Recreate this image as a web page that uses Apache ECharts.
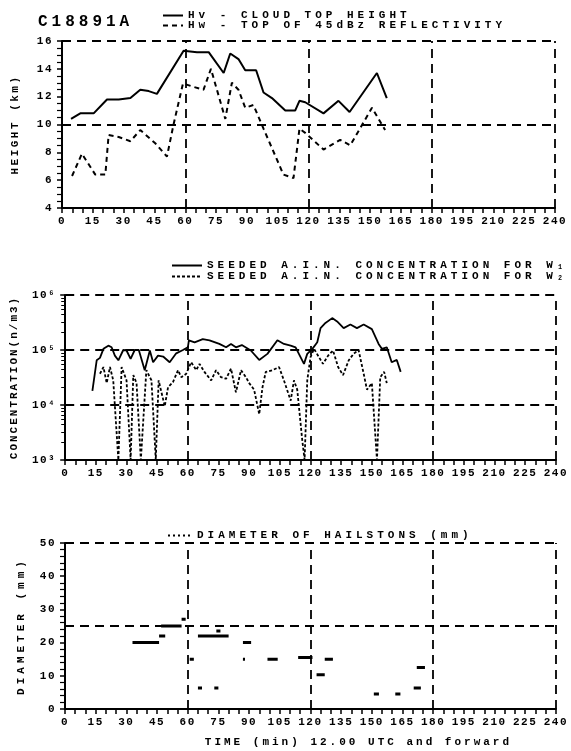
<!DOCTYPE html>
<html>
<head>
<meta charset="utf-8">
<script src="https://cdn.jsdelivr.net/npm/echarts@6/dist/echarts.min.js"></script>
<style>html,body{margin:0;padding:0;background:#fff;}#c{width:571px;height:751px;}</style>
</head>
<body>
<div id="c"></div>
<script>
// ---- typewriter letter spacing (encoded in the font-family list as lspN = N/2 px) ----
(function(){
  var P = CanvasRenderingContext2D.prototype;
  if (!('letterSpacing' in P)) return;
  function ap(ctx){ var m = /lsp(\d+)/.exec(ctx.font); ctx.letterSpacing = m ? (parseInt(m[1],10)/2)+'px' : '0px'; }
  ['fillText','strokeText','measureText'].forEach(function(fn){
    var o = P[fn];
    P[fn] = function(){ ap(this); return o.apply(this, arguments); };
  });
})();

// ---------------- DATA ----------------
const timeTicks = [0,15,30,45,60,75,90,105,120,135,150,165,180,195,210,225,240];
const gridTimes = [60,120,180,240];

// Panel 1: heights (km)
const hvTime = [4.4,8.9,15.4,21.9,27.6,33.3,38.1,42.2,46.2,59.2,65.7,71.4,78.7,81.9,85.9,89.2,94.5,98.1,102.2,108.7,113.5,115.6,118.4,127.3,134.6,140.0,153.3,158.1];
const hvHeight = [10.4,10.8,10.8,11.8,11.8,11.9,12.5,12.4,12.2,15.3,15.2,15.2,13.7,15.1,14.7,13.9,13.9,12.3,11.9,11.0,11.0,11.7,11.6,10.8,11.7,10.9,13.7,11.9];
const hwTime = [4.9,9.7,16.2,21.1,22.7,27.6,33.3,38.1,45.4,51.1,54.3,58.9,64.1,68.9,72.5,79.5,82.7,85.9,89.2,93.2,98.1,107.8,112.7,115.6,118.4,127.3,135.4,140.3,150.9,157.3];
const hwHeight = [6.3,7.9,6.4,6.4,9.25,9.1,8.8,9.6,8.65,7.7,10.0,12.95,12.7,12.5,14.0,10.4,13.0,12.5,11.2,11.4,9.7,6.4,6.15,9.7,9.4,8.2,8.9,8.5,11.2,9.6];
const heightGrid = [10,16];

// Panel 2: seeded A.I.N. concentration (n/m3)
const w1Time = [13.3,15.4,17.0,18.7,21.1,22.7,24.3,26.0,28.4,30.0,32.0,34.0,36.0,38.9,41.4,43.0,45.4,47.9,51.1,54.3,57.6,60.0,60.5,63.3,67.3,70.6,75.4,78.7,81.1,83.5,86.4,90.8,94.9,98.9,103.8,107.0,110.3,112.7,116.8,118.4,120.9,123.3,124.9,127.3,130.6,133.0,136.2,139.5,142.7,146.0,150.0,153.3,154.9,157.3,159.7,162.2,164.1];
const w1Conc = [18000,65000,72000,105000,120000,112000,79000,65000,100000,98000,69000,100000,100000,43000,98000,60000,79000,76000,60000,87000,100000,112000,150000,138000,158000,150000,129000,112000,129000,112000,123000,98000,66000,85000,150000,129000,120000,112000,56000,85000,105000,138000,250000,310000,380000,330000,250000,290000,250000,290000,240000,129000,105000,112000,60000,66000,40000];
const w2Time = [17.0,18.7,20.3,21.9,23.5,26.0,27.6,30.0,32.0,33.3,34.9,37.0,39.7,42.2,44.3,45.7,48.7,50.3,52.7,55.2,56.8,59.2,61.6,64.1,65.7,68.1,71.4,73.8,76.2,78.7,81.1,83.5,86.0,88.4,90.0,92.4,94.9,96.5,98.1,101.4,104.6,107.0,110.3,111.9,113.5,115.9,117.1,118.4,120.0,121.7,126.1,128.6,131.0,133.5,135.9,138.7,141.0,143.5,146.0,147.6,150.0,152.5,154.1,156.0,157.3];
const w2Conc = [37000,49000,25000,49000,28000,1000,49000,28000,1000,35000,25000,1000,43000,28000,1000,28000,9500,21000,26000,43000,32000,37000,60000,43000,56000,40000,28000,43000,32000,30000,46000,17000,43000,32000,25000,19000,6800,21000,40000,43000,49000,28000,12000,28000,19000,2400,1000,28000,74000,105000,56000,79000,98000,49000,35000,65000,85000,100000,37000,19000,25000,1000,32000,40000,25000];
const concGrid = [10000,100000,1000000];

// Panel 3: hailstone diameter (mm), horizontal segments
const hailStart = [33,46,47,57,61,65,74,65,73,87,87,99,114,123,127,151,161.5,170.5,172];
const hailEnd   = [46,49,57,59,63,80,76,67,75,91,88,104,121,127,131,153.5,164,174,176];
const hailDiam  = [20,22,25,27,15,22,23.5,6.3,6.3,20,15,15,15.5,10.3,15,4.5,4.5,6.3,12.5];
const diamGrid = [25,50];

const labels = {
  title: 'C18891A',
  hv: 'Hv - CLOUD TOP HEIGHT',
  hw: 'Hw - TOP OF 45dBz REFLECTIVITY',
  w1: 'SEEDED A.I.N. CONCENTRATION FOR W\u2081',
  w2: 'SEEDED A.I.N. CONCENTRATION FOR W\u2082',
  hail: 'DIAMETER OF HAILSTONS (mm)',
  yHeight: 'HEIGHT (km)',
  yConc: 'CONCENTRATION(n/m3)',
  yDiam: 'DIAMETER (mm)',
  xTime: 'TIME (min) 12.00 UTC and forward'
};
// ---------------------------------------

const F = ls => "'Liberation Mono', lsp" + ls + ", monospace";
const BLK = '#000';
const pairs = (xs, ys) => xs.map((x, i) => [x, ys[i]]);
const sup = {'0':'\u2070','1':'\u00b9','2':'\u00b2','3':'\u00b3','4':'\u2074','5':'\u2075','6':'\u2076'};

function xAxisFor(gi, withName) {
  const ax = {
    type: 'value', gridIndex: gi, min: 0, max: 240, interval: 15,
    axisLine: {show: true, onZero: false, lineStyle: {color: BLK, width: 2}},
    axisTick: {show: true, length: 5, lineStyle: {color: BLK, width: 1.5}},
    minorTick: {show: true, splitNumber: 3, length: 5, lineStyle: {color: BLK, width: 1.5}},
    splitLine: {show: false},
    axisLabel: {color: BLK, fontFamily: F(3), fontWeight: 'bold', fontSize: 11, margin: 7,
      formatter: v => (timeTicks.indexOf(v) >= 0 ? String(v) : '')}
  };
  if (withName) {
    ax.name = labels.xTime;
    ax.nameLocation = 'middle';
    ax.nameGap = 26;
    ax.nameTextStyle = {color: BLK, fontFamily: F(6), fontWeight: 'bold', fontSize: 11, padding: [0, 0, 0, 96]};
  }
  return ax;
}

function gridMarks(yVals) {
  return {
    silent: true, symbol: 'none', label: {show: false},
    lineStyle: {color: BLK, type: [9, 6], width: 1.8},
    data: yVals.map(v => ({yAxis: v})).concat(gridTimes.map(t => ({xAxis: t})))
  };
}

const hailData = [];
hailStart.forEach((s, i) => {
  hailData.push([s, hailDiam[i]], [hailEnd[i], hailDiam[i]], [hailEnd[i], '-']);
});

const yLabelStyle = {color: BLK, fontFamily: F(3), fontWeight: 'bold', fontSize: 11, margin: 9};
const yLine = {show: true, lineStyle: {color: BLK, width: 2}};
const yTick = {show: true, length: 5, lineStyle: {color: BLK, width: 1.5}};
const legendText = {color: BLK, fontFamily: F(8), fontWeight: 'bold', fontSize: 11, lineHeight: 10};
const legendCommon = {orient: 'vertical', itemHeight: 8, textStyle: legendText,
  itemStyle: {opacity: 0}, selectedMode: false};

const option = {
  animation: false,
  backgroundColor: '#fff',
  title: {
    text: labels.title, left: 33, top: 7,
    textStyle: {color: BLK, fontFamily: F(8), fontWeight: 'bold', fontSize: 16}
  },
  legend: [
    Object.assign({}, legendCommon, {data: [labels.hv, labels.hw], left: 157, top: 3, itemGap: -5,
      itemWidth: 20}),
    Object.assign({}, legendCommon, {data: [labels.w1, labels.w2], left: 166, top: 253, itemGap: -4,
      itemWidth: 30}),
    Object.assign({}, legendCommon, {data: [{name: labels.hail, lineStyle: {type: [2, 3], width: 2, color: BLK}}],
      left: 162, top: 523, itemWidth: 24})
  ],
  grid: [
    {left: 62, top: 41, width: 493, height: 167},
    {left: 63, top: 295, width: 493, height: 165},
    {left: 65, top: 543, width: 494, height: 166}
  ],
  xAxis: [xAxisFor(0, false), xAxisFor(1, false), xAxisFor(2, true)],
  yAxis: [
    {type: 'value', gridIndex: 0, min: 4, max: 16, interval: 2,
      axisLine: yLine, axisTick: yTick,
      minorTick: {show: true, splitNumber: 4, length: 5, lineStyle: {color: BLK, width: 1.2}},
      splitLine: {show: false}, axisLabel: yLabelStyle,
      name: labels.yHeight, nameLocation: 'middle', nameGap: 40, nameRotate: 90,
      nameTextStyle: {color: BLK, fontFamily: F(5), fontWeight: 'bold', fontSize: 11}},
    {type: 'log', logBase: 10, gridIndex: 1, min: 1000, max: 1000000,
      axisLine: yLine, axisTick: yTick,
      minorTick: {show: true, splitNumber: 8, length: 4, lineStyle: {color: BLK, width: 1}},
      splitLine: {show: false},
      axisLabel: Object.assign({}, yLabelStyle, {
        formatter: v => '10' + (sup[String(Math.round(Math.log10(v)))] || '')}),
      name: labels.yConc, nameLocation: 'middle', nameGap: 42, nameRotate: 90,
      nameTextStyle: {color: BLK, fontFamily: F(4), fontWeight: 'bold', fontSize: 11}},
    {type: 'value', gridIndex: 2, min: 0, max: 50, interval: 10,
      axisLine: yLine, axisTick: yTick,
      minorTick: {show: true, splitNumber: 5, length: 5, lineStyle: {color: BLK, width: 1.2}},
      splitLine: {show: false}, axisLabel: yLabelStyle,
      name: labels.yDiam, nameLocation: 'middle', nameGap: 30, nameRotate: 90,
      nameTextStyle: {color: BLK, fontFamily: F(8), fontWeight: 'bold', fontSize: 11}}
  ],
  series: [
    {name: labels.hv, type: 'line', xAxisIndex: 0, yAxisIndex: 0, symbol: 'none',
      data: pairs(hvTime, hvHeight), lineStyle: {color: BLK, width: 2},
      itemStyle: {color: BLK}, markLine: gridMarks(heightGrid), z: 3},
    {name: labels.hw, type: 'line', xAxisIndex: 0, yAxisIndex: 0, symbol: 'none',
      data: pairs(hwTime, hwHeight), lineStyle: {color: BLK, width: 2, type: [5, 4]},
      itemStyle: {color: BLK}, z: 3},
    {name: labels.w1, type: 'line', xAxisIndex: 1, yAxisIndex: 1, symbol: 'none',
      data: pairs(w1Time, w1Conc), lineStyle: {color: BLK, width: 1.8},
      itemStyle: {color: BLK}, markLine: gridMarks(concGrid), z: 3},
    {name: labels.w2, type: 'line', xAxisIndex: 1, yAxisIndex: 1, symbol: 'none',
      data: pairs(w2Time, w2Conc), lineStyle: {color: BLK, width: 1.8, type: [3, 2]},
      itemStyle: {color: BLK}, z: 3},
    {name: labels.hail, type: 'line', xAxisIndex: 2, yAxisIndex: 2, symbol: 'none',
      connectNulls: false, data: hailData, lineStyle: {color: BLK, width: 3},
      itemStyle: {color: BLK}, markLine: gridMarks(diamGrid), z: 3}
  ]
};

const chart = echarts.init(document.getElementById('c'), null, {renderer: 'canvas'});
chart.setOption(option);
</script>
</body>
</html>
